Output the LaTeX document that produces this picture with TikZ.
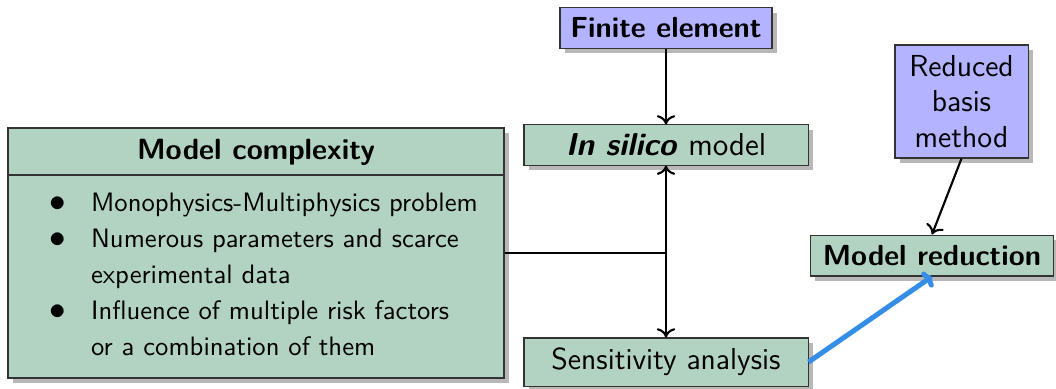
\documentclass[tikz,border=0pt]{standalone}
\usepackage{fontspec}
\usetikzlibrary{shadows,arrows.meta}
\definecolor{boxgreen}{RGB}{179,211,194}
\definecolor{boxblue}{RGB}{179,179,255}
\definecolor{arrowblue}{RGB}{52,142,230}
\tikzset{
  shadowed/.style={drop shadow={shadow xshift=2pt,shadow yshift=-2pt,fill=black!28,opacity=1}},
  greenbox/.style={draw=black!80,fill=boxgreen,shadowed,inner sep=0pt,font=\sffamily\fontsize{11.5}{13.3}\selectfont,align=center},
  bluebox/.style={draw=black!80,fill=boxblue,shadowed,inner sep=0pt,font=\sffamily\fontsize{11.5}{13.3}\selectfont,align=center},
  boldtext/.style={font=\sffamily\bfseries\fontsize{11}{13}\selectfont},
  conn/.style={thick,-{To[length=3.5pt,width=7pt]}},
  plain/.style={thick},
  bigarrow/.style={line width=1.9pt,arrowblue,-{To[length=3pt,width=7pt]}}
}
\begin{document}
\begin{tikzpicture}[x=0.3788pt,y=-0.3788pt]
\useasboundingbox (0,0) rectangle (1056,388);
% Model complexity box
\node[greenbox,minimum width=187.9pt,minimum height=94.7pt] (mc) at (256,253) {};
\node[font=\sffamily\bfseries\fontsize{11.1}{13}\selectfont] (mchead) at (256,152) {Model complexity};
\coordinate (dl) at (8,175);
\coordinate (dr) at (504,175);
\draw[draw=black!80] (dl) -- (dr);
\node[anchor=north west,inner sep=0pt,font=\sffamily\fontsize{10.1}{13.6}\selectfont] (mclist) at (49,186) {%
  \begin{tabular}{@{}c@{\hspace{9.5pt}}l@{}}
  \scalebox{1.25}{$\bullet$} & Monophysics-Multiphysics problem\\
  \scalebox{1.25}{$\bullet$} & Numerous parameters and scarce\\
   & experimental data\\
  \scalebox{1.25}{$\bullet$} & Influence of multiple risk factors\\
   & or a combination of them
  \end{tabular}};
% other nodes
\node[bluebox,minimum width=80.3pt,minimum height=15.2pt,boldtext] (fe) at (666,28) {Finite element};
\node[greenbox,minimum width=107.6pt,minimum height=15.2pt,font=\sffamily\fontsize{12}{13.3}\selectfont] (is) at (666,145) {\textbf{\textit{In silico}} model};
\node[greenbox,minimum width=107.6pt,minimum height=18.2pt] (sa) at (666,362) {Sensitivity analysis};
\node[bluebox,minimum width=50.4pt,minimum height=42.8pt] (rb) at (961.5,101.5) {Reduced\\basis\\method};
\node[greenbox,minimum width=92.4pt,minimum height=15.5pt,boldtext] (mr) at (932,255.5) {Model reduction};
% connectors
\coordinate (j) at (666,253);
\draw[plain] (mc.east |- j) -- (j);
\draw[conn] (fe) -- (is);
\draw[conn] (j) -- (is.south);
\draw[conn] (j) -- (sa.north);
\draw[conn] (rb.south) -- (mr.north);
\draw[bigarrow] (sa.east) -- (mr.south);
\end{tikzpicture}
\end{document}
